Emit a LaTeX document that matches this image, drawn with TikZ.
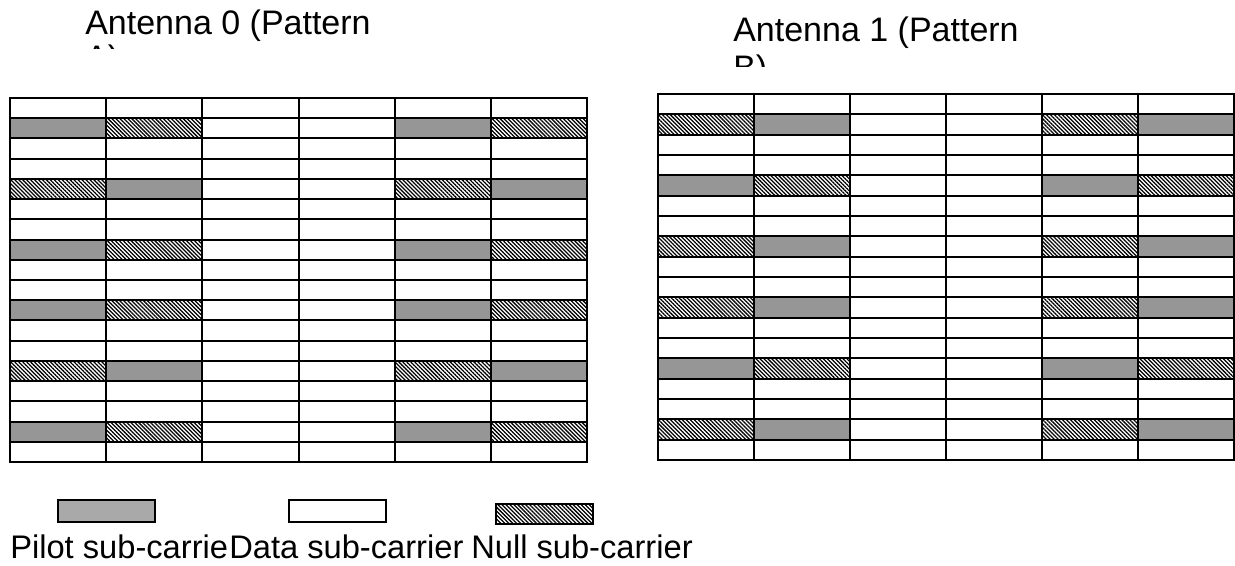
\documentclass[tikz,border=0pt]{standalone}
\usepackage{fontspec}
\setmainfont{Liberation Sans}
\usetikzlibrary{patterns.meta}

\definecolor{pilotgray}{HTML}{969696}
\definecolor{legendgray}{HTML}{A9A9A9}

\tikzset{
  cellborder/.style={draw=black, line width=1.5pt},
  pilotfill/.style={fill=pilotgray},
  nullfill/.style={pattern={Lines[angle=-45, distance=2.1pt, line width=0.95pt]}, pattern color=black},
  titletext/.style={font=\fontsize{25.5}{30}\selectfont, inner sep=0pt, anchor=base west},
  legendtext/.style={font=\fontsize{24.5}{29}\selectfont, inner sep=0pt, anchor=base west, fill=white},
  legendframe/.style={draw=black, line width=1.5pt},
}

% One antenna grid: 18 rows x 6 columns of sub-carrier cells.
% #1 = list of row/column pairs giving the pilot column (0 or 1) of each pilot row
\newcommand\carriergrid[1]{%
  \foreach \r/\p in {#1} {
    \pgfmathtruncatemacro\q{1-\p}
    \foreach \c in {0,4} {
      \path[pilotfill] ({(\c+\p)*\cw},{\r*\rh}) rectangle ++(\cw,\rh);
      \path[nullfill] ({(\c+\q)*\cw},{\r*\rh}) rectangle ++(\cw,\rh);
    }
  }
  \foreach \r in {0,...,17} {
    \foreach \c in {0,...,5} {
      \draw[cellborder] ({\c*\cw},{\r*\rh}) rectangle ++(\cw,\rh);
    }
  }
}

\begin{document}
\begin{tikzpicture}[x=0.75pt, y=-0.75pt]
  \useasboundingbox (0,0) rectangle (1235,565);

  % Titles (second line cut off by the text frame)
  \begin{scope}
    \clip (0,0) rectangle (620,48);
    \node[titletext] (title0) at (85,34) {Antenna 0 (Pattern};
    \node[titletext] (title0b) at (85,69) {A)};
  \end{scope}
  \begin{scope}
    \clip (620,0) rectangle (1235,66);
    \node[titletext] (title1) at (733,41) {Antenna 1 (Pattern};
    \node[titletext] (title1b) at (733,79) {B)};
  \end{scope}

  % Antenna 0, pattern A
  \begin{scope}[shift={(10,98)}]
    \def\cw{96.17}\def\rh{20.22}
    \carriergrid{1/0,4/1,7/0,10/0,13/1,16/0}
  \end{scope}

  % Antenna 1, pattern B
  \begin{scope}[shift={(658,94)}]
    \def\cw{96}\def\rh{20.33}
    \carriergrid{1/1,4/0,7/1,10/1,13/0,16/1}
  \end{scope}

  % Legend keys
  \draw[legendframe, fill=legendgray] (58,500) rectangle (155,522);
  \draw[legendframe, fill=white] (289,500) rectangle (386,522);
  \path[nullfill] (496,504) rectangle (593,524);
  \draw[legendframe] (496,504) rectangle (593,524);

  % Legend labels (each label box is opaque and hides what lies under it)
  \node[legendtext] (lpilot) at (10,558) {Pilot sub-carrier};
  \node[legendtext] (ldata) at (229,558) {Data sub-carrier};
  \node[legendtext] (lnull) at (471,558) {Null sub-carrier};
\end{tikzpicture}
\end{document}
